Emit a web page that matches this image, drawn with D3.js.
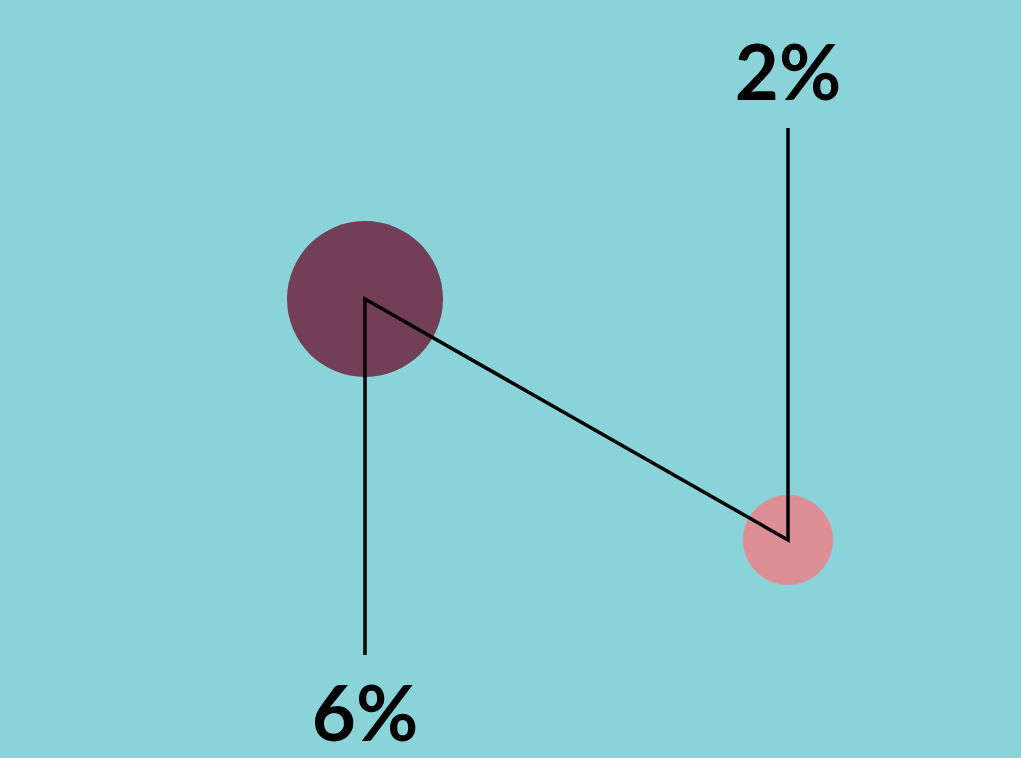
<!DOCTYPE html>
<html>
<head>
<meta charset="utf-8">
<script src="https://cdn.jsdelivr.net/npm/d3@7"></script>
<style>
html,body{margin:0;padding:0;background:#8AD3D9;}
svg{display:block;}
</style>
</head>
<body>
<svg id="chart" width="1021" height="758"></svg>
<script>
const categories = ["A", "B"];
const values = [6, 2];
const labels = ["6%", "2%"];
const colors = ["#723F57", "#DE8F96"];

const W = 1021, H = 758;
const svg = d3.select("#chart");
svg.append("rect").attr("width", W).attr("height", H).attr("fill", "#8AD3D9");

const x = d3.scalePoint().domain(categories).range([365, 788]);
const y = d3.scaleLinear().domain([2, 6]).range([540, 299]);
const r = d3.scaleSqrt().domain([0, 6]).range([0, 78]);

const data = categories.map((c, i) => ({c, v: values[i], label: labels[i], color: colors[i]}));

svg.selectAll("circle").data(data).join("circle")
  .attr("cx", d => x(d.c))
  .attr("cy", d => y(d.v))
  .attr("r", d => r(d.v))
  .attr("fill", d => d.color);

const pts = [
  [x(categories[0]), 655],
  ...data.map(d => [x(d.c), y(d.v)]),
  [x(categories[categories.length - 1]), 128]
];
svg.append("path")
  .attr("d", d3.line()(pts))
  .attr("fill", "none")
  .attr("stroke", "#000")
  .attr("stroke-width", 3.5)
  .attr("stroke-linejoin", "miter");

svg.selectAll("text.lbl").data(data).join("text")
  .attr("class", "lbl")
  .attr("x", d => x(d.c))
  .attr("y", (d, i) => i === 0 ? 741 : 100)
  .attr("text-anchor", "middle")
  .attr("font-family", "Lato, 'Noto Sans', sans-serif")
  .attr("font-size", 76)
  .attr("font-weight", 700)
  .attr("fill", "#000")
  .text(d => d.label);
</script>
</body>
</html>
